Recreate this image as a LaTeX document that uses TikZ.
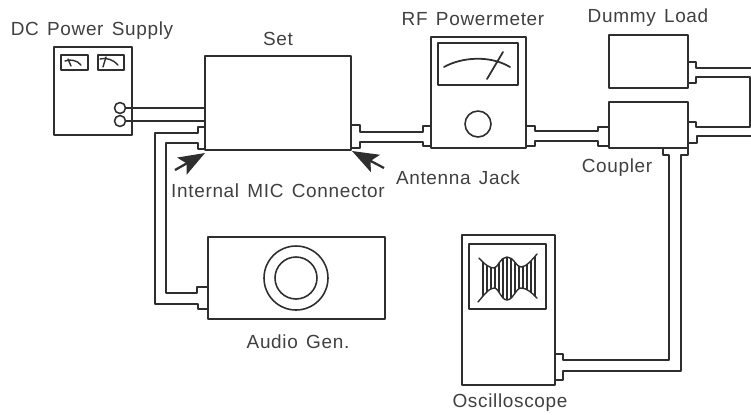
\documentclass[tikz,border=0pt]{standalone}
\usepackage{fontspec}
\setmainfont[LetterSpace=3.5,WordSpace=1.4]{Liberation Sans}
\usetikzlibrary{fit,arrows.meta}
\definecolor{ink}{gray}{0.18}
\definecolor{print}{gray}{0.25}
\tikzset{
	unit/.style={draw=ink, line width=1.1pt, inner sep=0pt, fit={#1}},
	panel/.style={draw=ink, line width=1pt, inner sep=0pt, fit={#1}},
	dial/.style={draw=ink, line width=0.9pt, circle, inner sep=0pt, minimum size=#1},
	wire/.style={draw=ink, line width=1pt, line join=round},
	trace/.style={draw=ink, line width=0.8pt, line cap=round},
	pointer/.style={draw=ink, line width=1.3pt, -{Stealth[length=15pt,width=11pt,inset=3pt]}},
	caption/.style={text=print, font=\fontsize{10.8}{12}\selectfont, inner sep=0pt}
}
\begin{document}
\begin{tikzpicture}[x=0.02cm,y=-0.02cm,line join=round]
	\useasboundingbox (0,0) rectangle (751,414);
	\node[unit={(54,47) (132,135)}] (supply) {};
	\node[unit={(205,56) (351,150)}] (set) {};
	\node[unit={(431,37) (526,148)}] (powermeter) {};
	\node[unit={(609,35) (688,88)}] (dummy) {};
	\node[unit={(609,102) (688,148)}] (coupler) {};
	\node[unit={(208,237) (385,319)}] (audio) {};
	\node[unit={(462,235) (555,385)}] (scope) {};
	\node[panel={(61,55) (88,70)}] (meterA) {};
	\node[panel={(98,55) (124,70)}] (meterB) {};
	\node[panel={(438,43) (518,85)}] (window) {};
	\node[panel={(469,244) (546,309)}] (screen) {};
	\node[dial=0.22cm] (plus) at (120,108) {};
	\node[dial=0.22cm] (minus) at (120,121) {};
	\node[dial=0.52cm] (knob) at (478,124) {};
	\node[dial=1.28cm] (outer) at (296,278) {};
	\node[dial=0.84cm] (inner) at (296,278) {};

	\draw [trace] (65,61) .. controls (70,59) and (77,60) .. (81,65);
	\draw [trace] (71,66)-- (68,59);
	\draw [trace] (100,59) .. controls (106,57) and (114,60) .. (118,65);
	\draw [trace] (103,67)-- (106,57);
	\draw [trace, line width=1pt] (444,67) .. controls (462,57) and (490,55) .. (510,67);
	\draw [trace, line width=1pt] (487,79)-- (503,52);

	\begin{scope}
		\clip (479,258) .. controls (485,265) and (490,268) .. (494,268) .. controls (498,268) and (500,257) .. (507,257) .. controls (514,257) and (516,267) .. (521,267) .. controls (526,267) and (532,260) .. (537,254)
			-- (537,298) .. controls (532,293) and (527,288) .. (521,288) .. controls (516,288) and (513,300) .. (507,300) .. controls (501,300) and (499,288) .. (494,288) .. controls (489,288) and (484,295) .. (478,302) -- cycle;
		\foreach \hatch in {483,487,...,535}
			\draw [ink, line width=0.6pt] (\hatch,250)-- (\hatch,305);
	\end{scope}
	\draw [trace] (479,258) .. controls (485,265) and (490,268) .. (494,268) .. controls (498,268) and (500,257) .. (507,257) .. controls (514,257) and (516,267) .. (521,267) .. controls (526,267) and (532,260) .. (537,254);
	\draw [trace] (478,302) .. controls (484,295) and (489,288) .. (494,288) .. controls (499,288) and (501,300) .. (507,300) .. controls (513,300) and (516,288) .. (521,288) .. controls (527,288) and (532,293) .. (537,298);

	\coordinate (setLa) at (205,127);
	\coordinate (setLb) at (205,149);
	\coordinate (setRa) at (351,125);
	\coordinate (setRb) at (351,148);
	\coordinate (audioa) at (208,287);
	\coordinate (audiob) at (208,309);
	\coordinate (powerLa) at (431,126);
	\coordinate (powerLb) at (431,146);
	\coordinate (powerRa) at (526,126);
	\coordinate (powerRb) at (526,146);
	\coordinate (coupLa) at (609,127);
	\coordinate (coupLb) at (609,146);
	\coordinate (coupRa) at (688,122);
	\coordinate (coupRb) at (688,143);
	\coordinate (coupDa) at (663,148);
	\coordinate (coupDb) at (688,148);
	\coordinate (dummya) at (688,62);
	\coordinate (dummyb) at (688,83);
	\coordinate (scopea) at (555,354);
	\coordinate (scopeb) at (555,380);
	\coordinate (edgea) at (751,68);
	\coordinate (edgeb) at (750,77);
	\coordinate (edgec) at (750,127);
	\coordinate (edged) at (751,136);

	\draw [wire] (plus)-- (plus -| set.west);
	\draw [wire] (minus)-- (minus -| set.west);
	\draw [wire] (setLa)-- ++(-7,0)-- ++(0,6)-- ++(-43,0)-- ++(0,171)-- ++(43,0)-- ++(0,5)-- (audiob);
	\draw [wire] (setLb)-- ++(-7,0)-- ++(0,-6)-- ++(-32,0)-- ++(0,150)-- ++(31,0)-- ++(0,-6)-- (audioa);
	\draw [wire] (setRa)-- ++(9,0)-- ++(0,7)-- ++(63,0)-- ++(0,-6)-- (powerLa);
	\draw [wire] (setRb)-- ++(9,0)-- ++(0,-6)-- ++(63,0)-- ++(0,4)-- (powerLb);
	\draw [wire] (powerRa)-- ++(9,0)-- ++(0,5)-- ++(63,0)-- ++(0,-4)-- (coupLa);
	\draw [wire] (powerRb)-- ++(9,0)-- ++(0,-5)-- ++(63,0)-- ++(0,5)-- (coupLb);
	\draw [wire] (dummya)-- ++(8,0)-- ++(0,6)-- (edgea);
	\draw [wire] (dummyb)-- ++(8,0)-- ++(0,-6)-- (edgeb)-- (edgec)-- ++(-54,0)-- ++(0,-5)-- (coupRa);
	\draw [wire] (coupRb)-- ++(9,0)-- ++(0,-7)-- (edged);
	\draw [wire] (coupDa)-- ++(0,7)-- ++(6,0)-- ++(0,205)-- ++(-106,0)-- ++(0,-6)-- (scopea);
	\draw [wire] (coupDb)-- ++(0,7)-- ++(-7,0)-- ++(0,216)-- ++(-118,0)-- ++(0,9)-- (scopeb);

	\coordinate (micTail) at (175,170);
	\coordinate (micTip) at (205,153);
	\coordinate (jackTail) at (384,168);
	\coordinate (jackTip) at (352,151);
	\draw [pointer] (micTail)-- (micTip);
	\draw [pointer] (jackTail)-- (jackTip);

	\node[caption] (supplyLabel) at (92,31) {DC Power Supply};
	\node[caption] (setLabel) at (278,39) {Set};
	\node[caption] (powermeterLabel) at (473,19) {RF Powermeter};
	\node[caption] (dummyLabel) at (648,18) {Dummy Load};
	\node[caption] (couplerLabel) at (617,168) {Coupler};
	\node[caption] (jackLabel) at (458,178) {Antenna Jack};
	\node[caption] (micLabel) at (278,191) {Internal MIC Connector};
	\node[caption] (audioLabel) at (298,342) {Audio Gen.};
	\node[caption] (scopeLabel) at (510,403) {Oscilloscope};
\end{tikzpicture}
\end{document}
